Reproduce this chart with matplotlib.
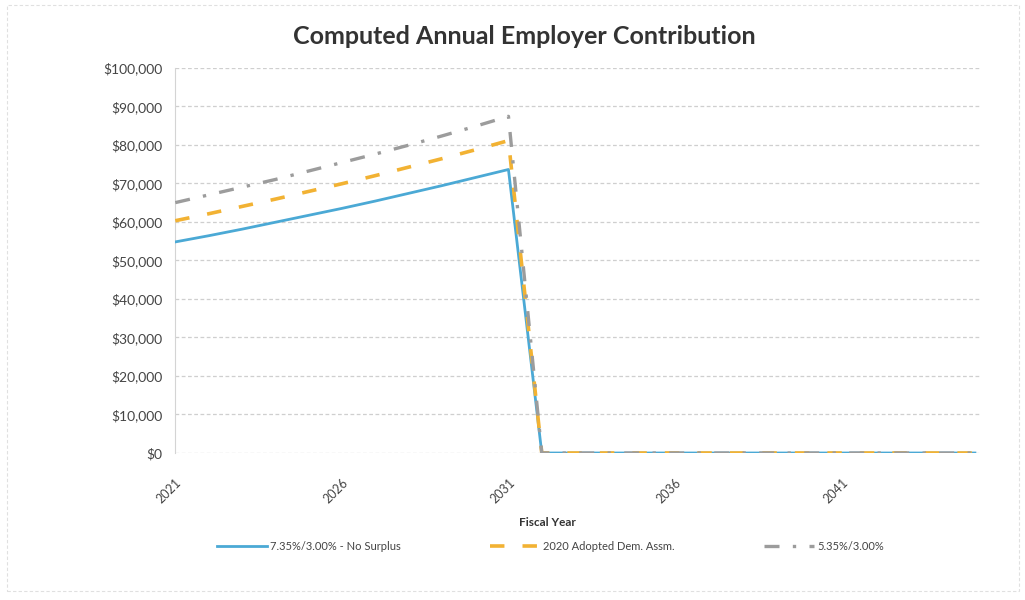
import matplotlib.pyplot as plt
from matplotlib.patches import Rectangle
from matplotlib.ticker import FuncFormatter

plt.rcParams['font.family'] = ['Lato', 'DejaVu Sans']

# Data (fiscal years 2021-2045)
years = list(range(2021, 2046))
no_surplus = [54800, 56400, 58100, 59900, 61700, 63500, 65400, 67400, 69400, 71500, 73600,
              0, 0, 0, 0, 0, 0, 0, 0, 0, 0, 0, 0, 0, 0]
adopted_2020 = [60300, 62100, 64000, 65900, 67900, 69900, 72000, 74200, 76400, 78700, 81100,
                0, 0, 0, 0, 0, 0, 0, 0, 0, 0, 0, 0, 0, 0]
rate_535 = [65000, 67000, 69000, 71000, 73200, 75400, 77600, 79900, 82300, 84800, 87400,
            0, 0, 0, 0, 0, 0, 0, 0, 0, 0, 0, 0, 0, 0]

series_names = ['7.35%/3.00% - No Surplus', '2020 Adopted Dem. Assm.', '5.35%/3.00%']
y_ticks = list(range(0, 100001, 10000))

fig = plt.figure(figsize=(10.25, 6), dpi=100)
ax = fig.add_axes([0.171, 0.245, 0.785, 0.642])

x = list(range(len(years)))
l1, = ax.plot(x, no_surplus, color='#4ba9d5', lw=2.0, zorder=3)
l2, = ax.plot(x, adopted_2020, color='#f2b233', lw=2.6, dashes=(4, 5), zorder=4)
l3, = ax.plot(x, rate_535, color='#9c9c9c', lw=2.4, dashes=(4.5, 4, 1, 4), zorder=5)

ax.set_ylim(0, 100000)
ax.set_xlim(0, len(years) - 0.85)
ax.set_yticks(y_ticks)
ax.yaxis.set_major_formatter(FuncFormatter(lambda v, p: '${:,.0f}'.format(v)))
ax.set_xticks(x[::5])
ax.set_xticklabels([str(y) for y in years[::5]], rotation=45, ha='right', va='top',
                   rotation_mode='anchor')
ax.tick_params(axis='both', length=0, labelsize=9, colors='#444444')
ax.tick_params(axis='y', labelsize=10, pad=9)
ax.tick_params(axis='x', pad=17)

ax.grid(axis='y', color='#cfcfcf', lw=0.9, dashes=(3, 2))
for side in ['top', 'right', 'bottom']:
    ax.spines[side].set_visible(False)
ax.spines['left'].set_color('#d4d4d4')

fig.text(0.512, 0.94, 'Computed Annual Employer Contribution', ha='center', va='center',
         fontsize=18, fontweight='bold', color='#333333')
fig.text(0.534, 0.13, 'Fiscal Year', ha='center', va='center', fontsize=8.5,
         fontweight='bold', color='#333333')

fig.legend([l1, l2, l3], series_names, loc='center', bbox_to_anchor=(0.537, 0.09), ncol=3,
           frameon=False, fontsize=8, handlelength=4.5, columnspacing=8, handletextpad=0.3,
           labelcolor='#444444')

fig.patches.append(Rectangle((0.007, 0.015), 0.987, 0.977, transform=fig.transFigure,
                             fill=False, edgecolor='#e0e0e0', lw=0.8, ls=(0, (3, 2))))

fig.savefig('out.png', dpi=100)
